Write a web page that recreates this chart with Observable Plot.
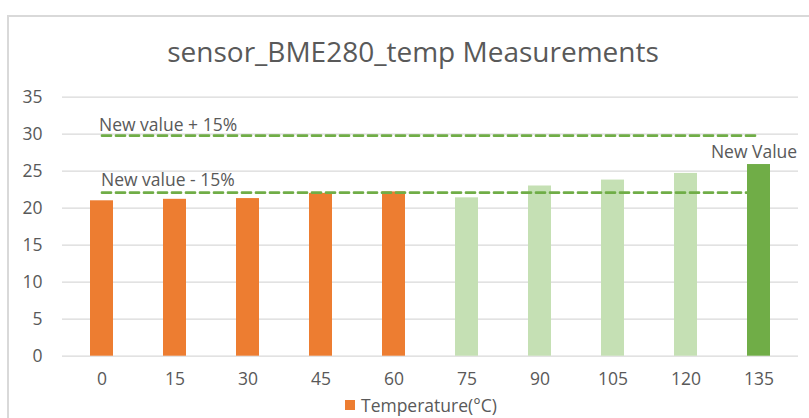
<!DOCTYPE html>
<html>
<head>
<meta charset="utf-8">
<script src="https://cdn.jsdelivr.net/npm/d3@7"></script>
<script src="https://cdn.jsdelivr.net/npm/@observablehq/plot@0.6"></script>
<style>
  html, body { margin: 0; padding: 0; background: #fff; }
  #wrap { position: relative; width: 809px; height: 418px; overflow: hidden; font-family: "Open Sans", sans-serif; }
  #frame { position: absolute; left: 7px; top: 15px; width: 830px; height: 420px; border: 2px solid #d9d9d9; box-sizing: border-box; }
  #title { position: absolute; left: 0; width: 826px; top: 32px; text-align: center; font-size: 28px; color: #595959; }
  #legend { position: absolute; left: 345px; top: 393px; font-size: 17.5px; color: #595959; display: flex; align-items: center; }
  #legend .sw { width: 10px; height: 10px; background: #ED7D31; margin-right: 6px; }
  #chart { position: absolute; left: 0; top: 0; }
</style>
</head>
<body>
<div id="wrap">
  <div id="frame"></div>
  <div id="title">sensor_BME280_temp Measurements</div>
  <div id="chart"></div>
  <div id="legend"><span class="sw"></span><span>Temperature(°C)</span></div>
</div>
<script>
const categories = ["0", "15", "30", "45", "60", "75", "90", "105", "120", "135"];
const temps = [21.0, 21.2, 21.3, 22.0, 22.2, 21.4, 23.0, 23.8, 24.7, 25.9];
const kinds = ["past", "past", "past", "past", "past", "recent", "recent", "recent", "recent", "new"];
const kindNames = ["past", "recent", "new"];
const kindColors = ["#ED7D31", "#C5E0B4", "#70AD47"];
const yTicks = [0, 5, 10, 15, 20, 25, 30, 35];
const upperValue = 29.8;
const lowerValue = 22.1;
const upperLabel = "New value + 15%";
const lowerLabel = "New value - 15%";
const newLabel = "New Value";

const data = categories.map((c, i) => ({cat: c, temp: temps[i], kind: kinds[i]}));
const upperLine = categories.map(c => ({cat: c, v: upperValue}));
const lowerLine = categories.map(c => ({cat: c, v: lowerValue}));
const lastCat = categories[categories.length - 1];
const txt = "#595959";

const chart = Plot.plot({
  width: 809,
  height: 418,
  marginLeft: 62,
  marginRight: 11,
  marginTop: 96.7,
  marginBottom: 62.3,
  style: {fontFamily: "'Open Sans', sans-serif", fontSize: "17.5px", color: txt, background: "transparent"},
  x: {domain: categories, paddingInner: 0.6875, paddingOuter: 0.34375},
  y: {domain: [0, 35]},
  color: {domain: kindNames, range: kindColors},
  marks: [
    Plot.ruleY(yTicks, {stroke: "#d9d9d9", strokeWidth: 1.3}),
    Plot.barY(data.filter(d => d.kind !== "new"), {x: "cat", y: "temp", fill: "kind"}),
    Plot.lineY(upperLine, {x: "cat", y: "v", stroke: "#70AD47", strokeWidth: 2.7, strokeDasharray: "9,5"}),
    Plot.lineY(lowerLine, {x: "cat", y: "v", stroke: "#70AD47", strokeWidth: 2.7, strokeDasharray: "9,5"}),
    Plot.barY(data.filter(d => d.kind === "new"), {x: "cat", y: "temp", fill: "kind"}),
    Plot.axisY(yTicks, {label: null, tickSize: 0, tickPadding: 20, fontSize: 17.5, fill: txt}),
    Plot.axisX({label: null, tickSize: 0, tickPadding: 16, fontSize: 17.5, fill: txt}),
    Plot.text([upperLabel], {x: () => categories[0], y: () => upperValue, text: d => d, textAnchor: "start", dx: -3, dy: -10, fontSize: 17.5, fill: txt}),
    Plot.text([lowerLabel], {x: () => categories[0], y: () => lowerValue, text: d => d, textAnchor: "start", dx: -1, dy: -12, fontSize: 17.5, fill: txt}),
    Plot.text([newLabel], {x: () => lastCat, y: () => temps[temps.length - 1], text: d => d, textAnchor: "middle", dx: -5, dy: -12, fontSize: 17.5, fill: txt})
  ]
});
document.getElementById("chart").appendChild(chart);
</script>
</body>
</html>
